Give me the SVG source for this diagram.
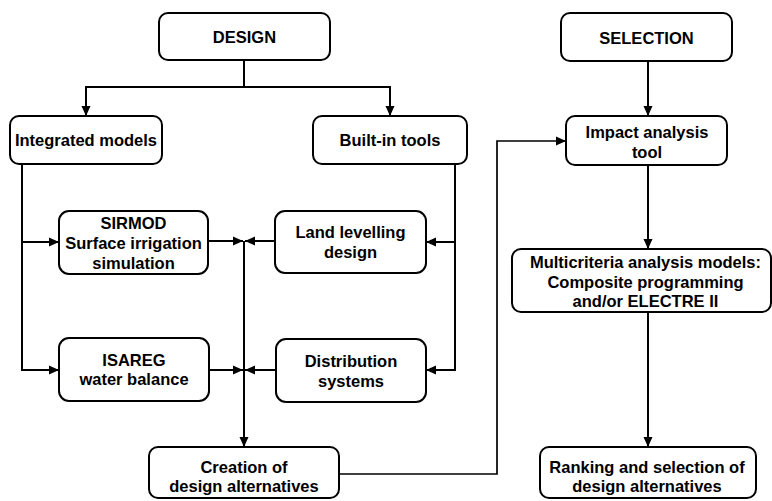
<svg xmlns="http://www.w3.org/2000/svg" width="772" height="501" viewBox="0 0 772 501">
<defs>
<marker id="ah" markerUnits="userSpaceOnUse" markerWidth="12" markerHeight="12" viewBox="0 0 12 12" refX="11" refY="6" orient="auto">
<path d="M1,1.5 L11,6 L1,10.5 Z" fill="#000"/>
</marker>
<style>
.box{fill:#fff;stroke:#000;stroke-width:2}
.c{fill:none;stroke:#000;stroke-width:2}
.a{marker-end:url(#ah)}
text{font-family:"Liberation Sans",Arial,sans-serif;font-weight:bold;font-size:16.5px;fill:#000;text-anchor:middle}
</style>
</defs>
<rect width="772" height="501" fill="#fff"/>
<g id="connectors">
<path class="c a" d="M244,60 V87 H86 V116"/>
<path class="c a" d="M244,87 H390 V116"/>
<path class="c a" d="M22,164 V370 H59"/>
<path class="c a" d="M22,242 H59"/>
<path class="c a" d="M455,164 V370 H426"/>
<path class="c a" d="M455,242 H426"/>
<path class="c a" d="M208,241 H243"/>
<path class="c a" d="M275,241 H245"/>
<path class="c a" d="M209,370 H243"/>
<path class="c a" d="M276,370 H245"/>
<path class="c a" d="M244,241 V447"/>
<path class="c a" d="M339,474 H497 V141 H566" style="stroke-width:1.7"/>
<path class="c a" d="M648,61 V116"/>
<path class="c a" d="M648,165 V249"/>
<path class="c a" d="M648,312 V447"/>
</g>
<g id="design"><rect class="box" x="159" y="13" width="171" height="47" rx="9"/><text x="244.5" y="43">DESIGN</text></g>
<g id="integrated"><rect class="box" x="10" y="116" width="152" height="48" rx="9"/><text x="86" y="146">Integrated models</text></g>
<g id="builtin"><rect class="box" x="313" y="116" width="154" height="48" rx="9"/><text x="390" y="146">Built-in tools</text></g>
<g id="sirmod"><rect class="box" x="59" y="211" width="149" height="63" rx="10"/><text x="133.5" y="229">SIRMOD</text><text x="133.5" y="249">Surface irrigation</text><text x="133.5" y="269">simulation</text></g>
<g id="landlevelling"><rect class="box" x="275" y="211" width="151" height="62" rx="10"/><text x="350.5" y="238">Land levelling</text><text x="350.5" y="257.5">design</text></g>
<g id="isareg"><rect class="box" x="59" y="338" width="150" height="63" rx="10"/><text x="134" y="366">ISAREG</text><text x="134" y="385">water balance</text></g>
<g id="distribution"><rect class="box" x="276" y="339" width="150" height="63" rx="10"/><text x="351" y="367">Distribution</text><text x="351" y="387">systems</text></g>
<g id="creation"><rect class="box" x="149" y="447" width="190" height="51" rx="9"/><text x="244" y="473">Creation of</text><text x="244" y="492">design alternatives</text></g>
<g id="selection"><rect class="box" x="561" y="13" width="171" height="48" rx="9"/><text x="646.5" y="44">SELECTION</text></g>
<g id="impact"><rect class="box" x="566" y="116" width="161" height="49" rx="9"/><text x="647" y="138">Impact analysis</text><text x="647" y="157.5">tool</text></g>
<g id="multicriteria"><rect class="box" x="512" y="249" width="259" height="63" rx="9"/><text x="645.5" y="268">Multicriteria analysis models:</text><text x="645.5" y="288">Composite programming</text><text x="645.5" y="307">and/or ELECTRE II</text></g>
<g id="ranking"><rect class="box" x="540" y="447" width="216" height="51" rx="9"/><text x="647" y="473">Ranking and selection of</text><text x="647" y="492">design alternatives</text></g>
</svg>
